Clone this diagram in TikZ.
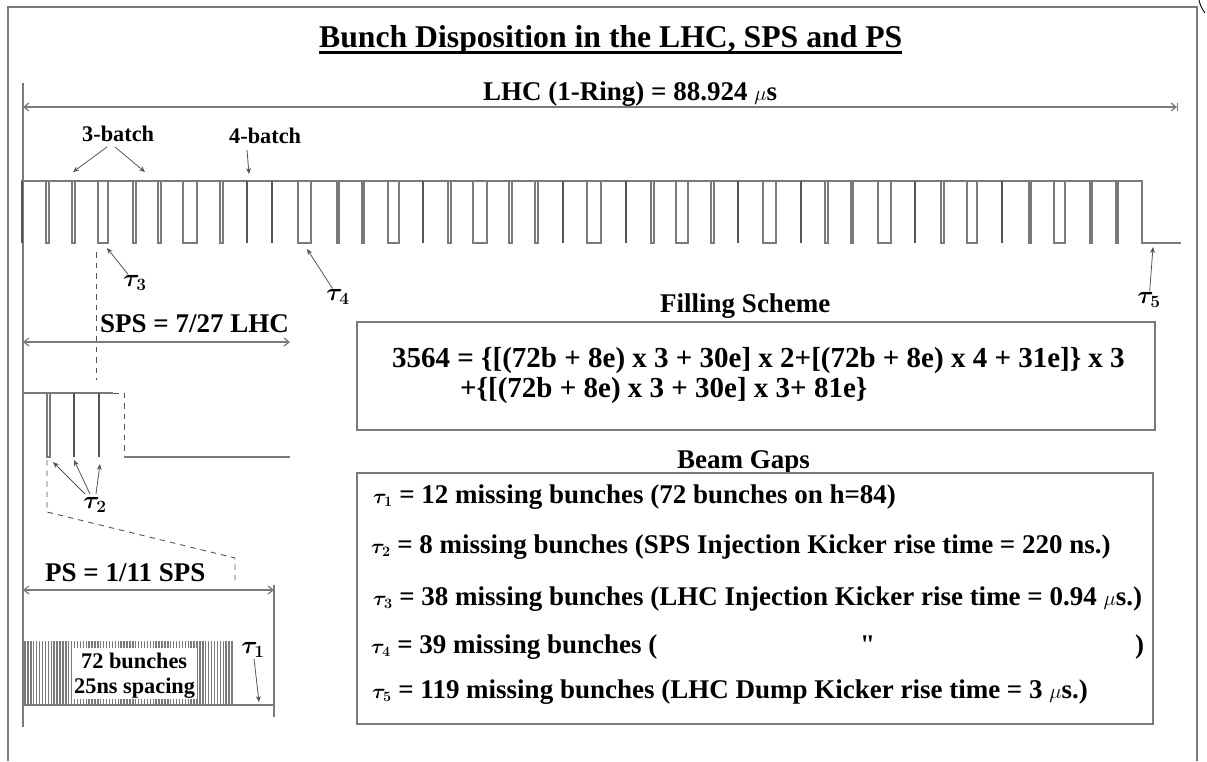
\documentclass[tikz,border=0pt]{standalone}
\usepackage{fontspec}
\setmainfont{Liberation Serif}
\newfontfamily\plainserif{Liberation Serif}
\usetikzlibrary{arrows.meta}
\definecolor{BunchInk}{HTML}{000000}
\definecolor{BunchLine}{HTML}{7A7A7A}
\definecolor{BunchDark}{HTML}{555555}
\newcommand{\fsz}[1]{\fontsize{#1}{#1}\selectfont\bfseries}
\newcommand{\gaptau}[1]{{\fontsize{21}{21}\selectfont\boldmath$\tau_{#1}$}}
\newcommand{\micro}{{\fontsize{21}{21}\selectfont$\mu$}}
\tikzset{
  every node/.style={text=BunchInk, inner sep=0pt, anchor=base west},
  title/.style={font=\fsz{31.7}},
  heading/.style={font=\fsz{27}},
  formula/.style={font=\fsz{29}},
  gapline/.style={font=\fsz{27}},
  tag/.style={font=\fsz{22.3}},
  symbol/.style={font=\fsz{23}\boldmath, anchor=center, inner sep=1pt},
  frame/.style={draw=BunchLine, line width=1.1pt},
  wave/.style={draw=BunchLine, line width=1.1pt},
  spike/.style={draw=BunchDark, line width=1.6pt},
  guide/.style={draw=BunchDark, line width=0.9pt, dash pattern=on 5.5pt off 5pt},
  span/.style={{Straight Barb[length=5pt,width=8pt]}-{Straight Barb[length=5pt,width=8pt]}, draw=BunchLine, line width=1.2pt},
  pointer/.style={-{Stealth[length=6pt,width=5pt]}, draw=BunchDark, line width=0.8pt},
}
\begin{document}
\begin{tikzpicture}[x=1pt,y=-1pt]
  \useasboundingbox (0,0) rectangle (1207,761);
  % Outer frame, open at the bottom
  \draw[frame] (8,761) -- (8,7) -- (1197,7) -- (1197,761);
  \draw[BunchInk, line width=0.9pt] (1199,0) .. controls (1200,5) and (1202,9) .. (1205,13);
  % Title with its heavy underline
  \node[title] (title) at (319,47) {Bunch Disposition in the LHC, SPS and PS};
  \draw[BunchInk, line width=3pt] (319,52.5) -- (902,52.5);
  % LHC ring span
  \node[heading] (lhc) at (483,100) {LHC (1-Ring) = 88.924 \micro s};
  \coordinate (lhcL) at (23,107);
  \coordinate (lhcR) at (1177,107);
  \draw[span] (lhcL) -- (lhcR);
  \draw[frame, line width=0.8pt] (1177,103) -- (1177,111);
  % Long left reference line
  \draw[frame] (23,83) -- (23,727);
  % LHC bunch train, wide gaps are the batch gaps
  \draw[wave] (21,181) -- (1142,181) -- (1142,243) -- (1181,243);
  \foreach \a/\b in {46/49,72/75,98/108,133/136,158/161,183/197,220/223,298/311,
    337/339,362/364,388/399,448/451,473/487,509/512,535/538,587/601,651/654,676/688,
    711/714,763/776,825/828,851/853,878/891,941/944,967/977,1029/1031,1054/1065,
    1090/1092,1116/1118} {
    \draw[wave] (\a,181) -- (\a,243) -- (\b,243) -- (\b,181);
  }
  % Narrow gaps that print as one dark stroke
  \foreach \x in {22,247,272,423,563,626,738,801,915,1002} {
    \draw[spike] (\x,181) -- (\x,243);
  }
  % Batch labels
  \node[tag] (threebatch) at (82,141) {3-batch};
  \node[tag] (fourbatch) at (229,143) {4-batch};
  \coordinate (threeA) at (73,172);
  \coordinate (threeB) at (145,172);
  \coordinate (fourA) at (249,174);
  \draw[pointer] (107,147) -- (threeA);
  \draw[pointer] (115,147) -- (threeB);
  \draw[pointer] (247,150) -- (fourA);
  % Gap markers under the train
  \node[symbol] (tauC) at (135,283) {$\tau_3$};
  \node[symbol] (tauD) at (338,297) {$\tau_4$};
  \node[symbol] (tauE) at (1149,300) {$\tau_5$};
  \coordinate (tipC) at (107,248);
  \coordinate (tipD) at (307,249);
  \coordinate (tipE) at (1153,247);
  \draw[pointer] (tauC) -- (tipC);
  \draw[pointer] (tauD) -- (tipD);
  \draw[pointer] (tauE) -- (tipE);
  % SPS span and its train
  \draw[guide] (96.5,252) -- (96.5,380);
  \node[heading] (sps) at (100,332) {SPS = 7/27 LHC};
  \coordinate (spsL) at (23,342);
  \coordinate (spsR) at (290,342);
  \draw[span] (spsL) -- (spsR);
  \draw[wave] (23,393) -- (113,393);
  \draw[guide] (113,393) -- (124,393) -- (124,457);
  \draw[wave] (124,457) -- (290,457);
  \draw[wave] (47,393) -- (47,457) -- (50,457) -- (50,393);
  \draw[spike] (74,393) -- (74,457);
  \draw[spike] (99,393) -- (99,457);
  % Zoom guide from SPS down to PS
  \draw[guide] (47,460) -- (47,512) -- (235,558) -- (235,585);
  \node[symbol] (tauB) at (95,505) {$\tau_2$};
  \coordinate (tipBa) at (53,462);
  \coordinate (tipBb) at (74,460);
  \coordinate (tipBc) at (100,464);
  \draw[pointer] (85,494) -- (tipBa);
  \draw[pointer] (90,494) -- (tipBb);
  \draw[pointer] (96,494) -- (tipBc);
  % PS span and its bunches
  \node[heading] (ps) at (45,581) {PS = 1/11 SPS};
  \coordinate (psL) at (23,590);
  \coordinate (psR) at (274,590);
  \draw[span] (psL) -- (psR);
  \draw[frame] (274,585) -- (274,717);
  \foreach \x in {0,...,71} {
    \draw[BunchLine, line width=1.4pt] (25+\x*2.915,641) -- (25+\x*2.915,705);
  }
  \fill[white] (73,648) rectangle (197,699);
  \draw[frame] (23,705) -- (274,705);
  \node[tag] (bunches) at (81,668) {72 bunches};
  \node[tag] (spacing) at (74,693) {25ns spacing};
  \node[symbol] (tauA) at (253,650) {$\tau_1$};
  \coordinate (tipA) at (259,702);
  \draw[pointer] (tauA) -- (tipA);
  % Filling scheme box
  \node[heading] (filling) at (660,312) {Filling Scheme};
  \draw[frame] (357,322) rectangle (1155,430);
  \node[formula] (fillA) at (392,367) {3564 = \{[(72b + 8e) x 3 + 30e] x 2+[(72b + 8e) x 4 + 31e]\} x 3};
  \node[formula] (fillB) at (460,397) {+\{[(72b + 8e) x 3 + 30e] x 3+ 81e\}};
  % Beam gaps box
  \node[heading] (gaps) at (677,468) {Beam Gaps};
  \draw[frame] (357,473) rectangle (1153,724);
  \node[gapline] (gapA) at (373,503) {\gaptau{1} = 12 missing bunches (72 bunches on h=84)};
  \node[gapline] (gapB) at (371,553) {\gaptau{2} = 8 missing bunches (SPS Injection Kicker rise time = 220 ns.)};
  \node[gapline] (gapC) at (373,605) {\gaptau{3} = 38 missing bunches (LHC Injection Kicker rise time = 0.94 \micro s.)};
  \node[gapline] (gapD) at (371,653) {\gaptau{4} = 39 missing bunches (};
  \node[gapline] (ditto) at (860,653) {\plainserif\bfseries\symbol{34}};
  \node[gapline] (close) at (1135,653) {)};
  \node[gapline] (gapE) at (372,698) {\gaptau{5} = 119 missing bunches (LHC Dump Kicker rise time = 3 \micro s.)};
\end{tikzpicture}
\end{document}
